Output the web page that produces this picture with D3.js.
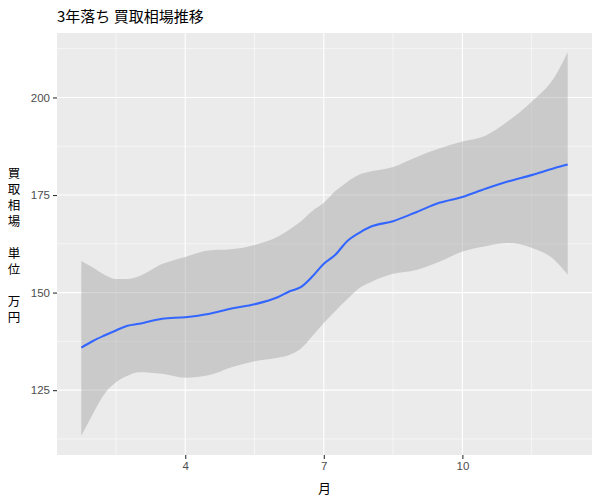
<!DOCTYPE html>
<html><head><meta charset="utf-8">
<script src="https://cdn.jsdelivr.net/npm/d3@7"></script>
<style>body{margin:0;background:#fff}</style>
</head><body>
<script>
const months = [1.75,2.0,2.25,2.5,2.75,3.0,3.5,4.0,4.5,5.0,5.5,6.0,6.25,6.5,6.75,7.0,7.25,7.5,7.75,8.0,8.5,9.0,9.5,10.0,10.5,11.0,11.5,12.0,12.28];
const fitValues = [135.9,137.6,139.0,140.3,141.5,142.0,143.3,143.7,144.5,145.9,147.0,148.8,150.3,151.4,154.1,157.4,159.7,163.1,165.2,166.8,168.3,170.6,173.0,174.5,176.6,178.5,180.1,181.9,182.8];
const upperValues = [158.1,156.4,154.6,153.5,153.5,154.2,157.3,159.1,160.8,161.1,162.2,164.3,166.1,168.2,170.9,173.0,176.0,178.3,180.1,181.0,182.2,184.7,186.9,188.7,190.2,194.0,198.9,205.3,211.6];
const lowerValues = [113.3,118.9,124.0,127.0,128.7,129.6,129.2,128.2,128.8,130.9,132.4,133.3,134.0,135.6,138.8,142.2,145.3,148.2,151.0,152.6,154.8,155.8,157.9,160.5,161.9,162.7,161.5,158.3,154.6];
const xTicks = [4,7,10];
const xMinor = [2.5,5.5,8.5,11.5];
const yTicks = [125,150,175,200];
const yMinor = [112.5,137.5,162.5,187.5,212.5];
const titleText = "3年落ち 買取相場推移";
const xTitle = "月";
const yTitleLines = ["買","取","相","場","","単","位","","万","円"];

const W = 600, H = 500;
const L = 57, R = 592, T = 33, B = 455;
const data = months.map((m,i)=>({m, fit:fitValues[i], lo:lowerValues[i], hi:upperValues[i]}));

function expand(ext){const d=(ext[1]-ext[0])*0.05;return [ext[0]-d, ext[1]+d];}
const x = d3.scaleLinear().domain(expand(d3.extent(months))).range([L,R]);
const y = d3.scaleLinear().domain(expand([d3.min(lowerValues), d3.max(upperValues)])).range([B,T]);

const svg = d3.select("body").append("svg").attr("width",W).attr("height",H)
  .style("font-family","'Liberation Sans', Arial, sans-serif");

svg.append("rect").attr("x",L).attr("y",T).attr("width",R-L).attr("height",B-T).attr("fill","#EBEBEB");

const g = svg.append("g");
g.selectAll(".vmin").data(xMinor.filter(v=>x(v)>=L&&x(v)<=R)).join("line")
  .attr("x1",d=>x(d)).attr("x2",d=>x(d)).attr("y1",T).attr("y2",B)
  .attr("stroke","#fff").attr("stroke-width",0.55);
g.selectAll(".hmin").data(yMinor.filter(v=>y(v)>=T&&y(v)<=B)).join("line")
  .attr("y1",d=>y(d)).attr("y2",d=>y(d)).attr("x1",L).attr("x2",R)
  .attr("stroke","#fff").attr("stroke-width",0.55);
g.selectAll(".vmaj").data(xTicks).join("line")
  .attr("x1",d=>x(d)).attr("x2",d=>x(d)).attr("y1",T).attr("y2",B)
  .attr("stroke","#fff").attr("stroke-width",1.1);
g.selectAll(".hmaj").data(yTicks).join("line")
  .attr("y1",d=>y(d)).attr("y2",d=>y(d)).attr("x1",L).attr("x2",R)
  .attr("stroke","#fff").attr("stroke-width",1.1);

const area = d3.area().x(d=>x(d.m)).y0(d=>y(d.lo)).y1(d=>y(d.hi)).curve(d3.curveMonotoneX);
svg.append("path").datum(data).attr("d",area).attr("fill","#999999").attr("fill-opacity",0.4);

const line = d3.line().x(d=>x(d.m)).y(d=>y(d.fit)).curve(d3.curveMonotoneX);
svg.append("path").datum(data).attr("d",line).attr("fill","none")
  .attr("stroke","#3366FF").attr("stroke-width",2.1);

const xAxis = svg.append("g").attr("transform",`translate(0,${B})`)
  .call(d3.axisBottom(x).tickValues(xTicks).tickSize(4).tickPadding(3).tickFormat(d3.format("d")));
const yAxis = svg.append("g").attr("transform",`translate(${L},0)`)
  .call(d3.axisLeft(y).tickValues(yTicks).tickSize(4).tickPadding(3).tickFormat(d3.format("d")));
[xAxis,yAxis].forEach(a=>{
  a.select(".domain").remove();
  a.selectAll(".tick line").attr("stroke","#333333").attr("stroke-width",1.1);
  a.selectAll(".tick text").attr("fill","#4D4D4D").style("font-size","11.5px")
    .style("font-family","'Liberation Sans', Arial, sans-serif");
});

svg.append("text").attr("x",L).attr("y",22).text(titleText)
  .style("font-family","'Noto Sans CJK JP', sans-serif").style("font-size","15px").attr("fill","#000");

svg.append("text").attr("x",(L+R)/2).attr("y",493).attr("text-anchor","middle").text(xTitle)
  .style("font-family","'Noto Sans CJK JP', sans-serif").style("font-size","13px").attr("fill","#000");

const lh = 16.1;
const y0 = (T+B)/2 - (yTitleLines.length-1)*lh/2 + 6;
const yt = svg.append("g")
  .style("font-family","'Noto Sans CJK JP', sans-serif").style("font-size","12.5px");
yTitleLines.forEach((c,i)=>{
  if (c === "") return;
  yt.append("text").attr("x",14).attr("y",y0+i*lh).attr("text-anchor","middle")
    .attr("fill","#000").text(c);
});
</script>
</body></html>
